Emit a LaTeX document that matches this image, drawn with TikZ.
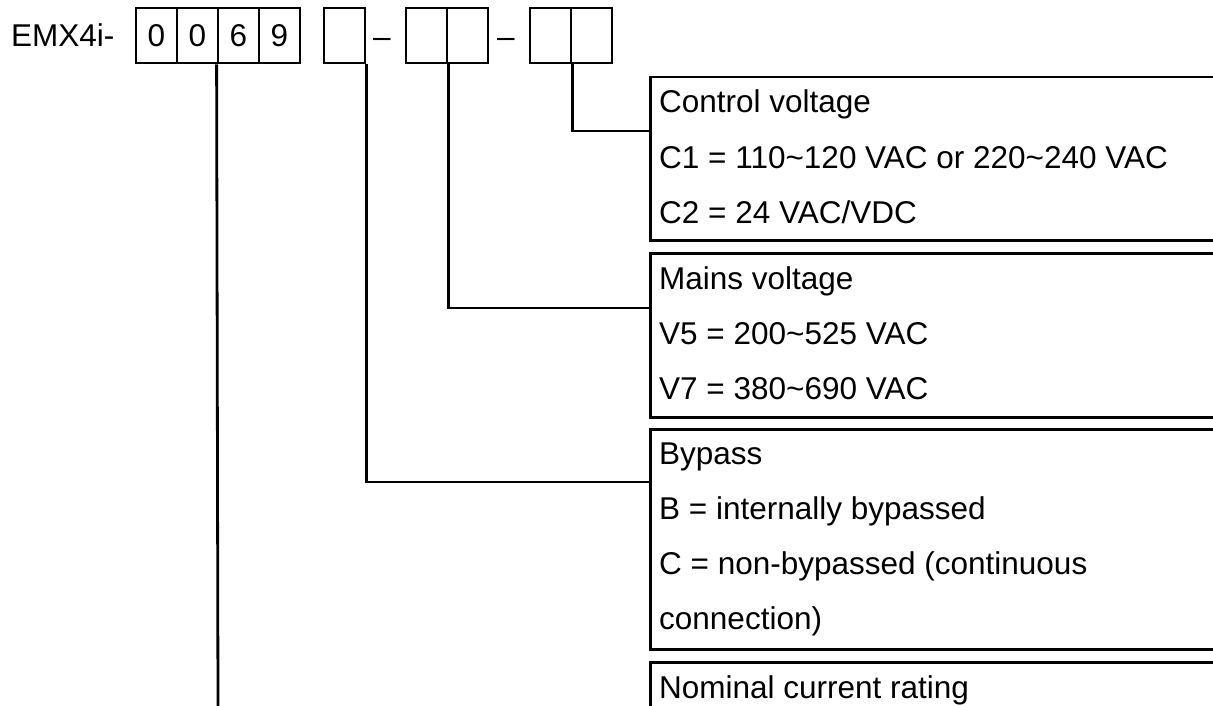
\documentclass[tikz,border=0pt]{standalone}
\usepackage{fontspec}
\setmainfont{Liberation Sans}
\tikzset{
  cell/.style={draw, line width=2.8pt, minimum width=41pt, minimum height=55pt, inner sep=0pt, font=\fontsize{31.5}{36}\selectfont},
  infobox/.style={draw, line width=2.8pt, anchor=north west, minimum width=620pt, inner sep=0pt},
  txt/.style={anchor=base west, inner sep=0pt, font=\fontsize{31.5}{36}\selectfont},
  conn/.style={line width=2.8pt}
}
\begin{document}
\begin{tikzpicture}[x=1pt,y=-1pt]
\useasboundingbox (0,0) rectangle (1213,706);
% header
\node[txt] (emx) at (11,47) {EMX4i-};
\node[cell] (c1) at (156.5,35.5) {0};
\node[cell] (c2) at (197.5,35.5) {0};
\node[cell] (c3) at (238.5,35.5) {6};
\node[cell] (c4) at (279.5,35.5) {9};
\node[cell] (g2) at (344.5,35.5) {};
\node[txt, anchor=base] (d1) at (382,48) {–};
\node[cell] (g3a) at (426.5,35.5) {};
\node[cell] (g3b) at (467.5,35.5) {};
\node[txt, anchor=base] (d2) at (506,48) {–};
\node[cell] (g4a) at (550.5,35.5) {};
\node[cell] (g4b) at (591.5,35.5) {};
% boxes
\node[infobox, minimum height=163.3pt] (ctrl) at (649,75.7) {};
\node[infobox, minimum height=164pt] (mains) at (649,252) {};
\node[infobox, minimum height=220pt] (byp) at (649,428) {};
\node[infobox, minimum height=100pt] (nom) at (649,661) {};
% texts
\node[txt] (t11) at (659,113) {Control voltage};
\node[txt] (t12) at (659,168) {C1 = 110\char`~120 VAC or 220\char`~240 VAC};
\node[txt] (t13) at (659,223) {C2 = 24 VAC/VDC};
\node[txt] (t21) at (659,289) {Mains voltage};
\node[txt] (t22) at (659,344) {V5 = 200\char`~525 VAC};
\node[txt] (t23) at (659,399) {V7 = 380\char`~690 VAC};
\node[txt] (t31) at (659,464) {Bypass};
\node[txt] (t32) at (659,519) {B = internally bypassed};
\node[txt] (t33) at (659,574) {C = non-bypassed (continuous};
\node[txt] (t34) at (659,629) {connection)};
\node[txt] (t41) at (659,698) {Nominal current rating};
% connector ends
\coordinate (cin) at (649,131);
\coordinate (min) at (649,308);
\coordinate (bin) at (649,482);
\coordinate (nend) at (218,706);
\draw[conn] (g4a.south east) |- (cin);
\draw[conn] (g3a.south east) |- (min);
\draw[conn] (g2.south east) |- (bin);
\draw[conn] (c3.south west) -- (nend);
\end{tikzpicture}
\end{document}
